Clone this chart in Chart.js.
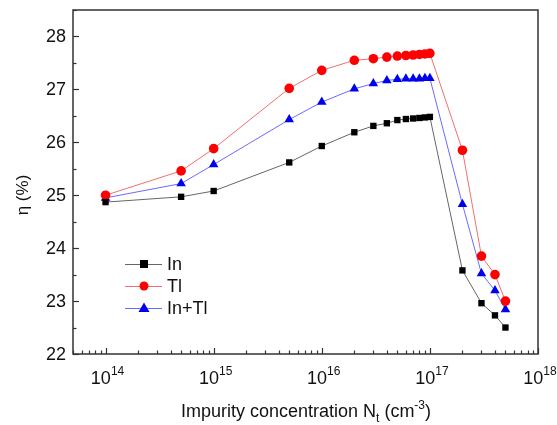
<!DOCTYPE html>
<html>
<head>
<meta charset="utf-8">
<script src="https://cdn.jsdelivr.net/npm/chart.js@4.4.1/dist/chart.umd.min.js"></script>
<style>
  body { margin: 0; background: #fff; }
  #wrap { width: 557px; height: 425px; }
</style>
</head>
<body>
<div id="wrap"><canvas id="chart" width="557" height="425"></canvas></div>
<script>
// impurity concentration (cm^-3)
const concentrations = [1e14, 5e14, 1e15, 5e15, 1e16, 2e16, 3e16, 4e16, 5e16, 6e16, 7e16, 8e16, 9e16, 1e17, 2e17, 3e17, 4e17, 5e17];
const etaIn   = [24.87, 24.97, 25.08, 25.62, 25.93, 26.19, 26.31, 26.36, 26.42, 26.44, 26.45, 26.46, 26.47, 26.48, 23.58, 22.96, 22.73, 22.50];
const etaTl   = [25.00, 25.46, 25.88, 27.02, 27.36, 27.55, 27.58, 27.61, 27.63, 27.64, 27.65, 27.66, 27.67, 27.68, 25.85, 23.85, 23.50, 23.00];
const etaInTl = [24.95, 25.22, 25.58, 26.43, 26.76, 27.01, 27.11, 27.17, 27.19, 27.20, 27.20, 27.20, 27.21, 27.21, 24.83, 23.52, 23.20, 22.84];

const xDecades = [14, 15, 16, 17, 18];
const yTicks = [22, 23, 24, 25, 26, 27, 28];

const seriesNames = ['In', 'Tl', 'In+Tl'];

function pts(ys) {
    return concentrations.map((x, i) => ({ x: x, y: ys[i] }));
}

const FONT = '"Liberation Sans", Arial, sans-serif';

// axes frame, inward ticks, labels and legend are drawn here
const frameAndText = {
    id: 'frameAndText',
    afterDraw(chart) {
        const ctx = chart.ctx;
        const a = chart.chartArea;
        const xs = chart.scales.x;
        const ys = chart.scales.y;
        ctx.save();
        ctx.strokeStyle = '#333';
        ctx.lineWidth = 1.5;
        ctx.strokeRect(a.left, a.top, a.right - a.left, a.bottom - a.top);

        // x ticks
        ctx.lineWidth = 1.2;
        for (let d = 13; d <= 18; d++) {
            for (let m = 1; m <= 9; m++) {
                const v = m * Math.pow(10, d);
                if (v < xs.min || v > xs.max) continue;
                const px = Math.round(xs.getPixelForValue(v)) + 0.5;
                const len = m === 1 ? 6 : 3.5;
                ctx.beginPath();
                ctx.moveTo(px, a.bottom);
                ctx.lineTo(px, a.bottom - len);
                ctx.stroke();
            }
        }
        // y ticks
        for (let v = 22; v <= 28.5; v += 0.5) {
            const py = Math.round(ys.getPixelForValue(v)) + 0.5;
            const len = Number.isInteger(v) ? 6 : 3.5;
            ctx.beginPath();
            ctx.moveTo(a.left, py);
            ctx.lineTo(a.left + len, py);
            ctx.stroke();
        }

        ctx.fillStyle = '#111';
        // y labels
        ctx.font = '18px ' + FONT;
        ctx.textAlign = 'right';
        ctx.textBaseline = 'middle';
        yTicks.forEach(v => {
            ctx.fillText(String(v), a.left - 7, ys.getPixelForValue(v) + 1);
        });

        // x labels: 10^n
        xDecades.forEach(n => {
            const px = xs.getPixelForValue(Math.pow(10, n));
            ctx.font = '18px ' + FONT;
            const wb = ctx.measureText('10').width;
            ctx.font = '12px ' + FONT;
            const we = ctx.measureText(String(n)).width;
            const x0 = px - (wb + we) / 2 + 2;
            ctx.textAlign = 'left';
            ctx.textBaseline = 'alphabetic';
            ctx.font = '18px ' + FONT;
            ctx.fillText('10', x0, a.bottom + 30);
            ctx.font = '12px ' + FONT;
            ctx.fillText(String(n), x0 + wb, a.bottom + 21);
        });

        // x title: Impurity concentration N_t (cm^-3)
        const parts = [
            { t: 'Impurity concentration N', s: 18, dy: 0 },
            { t: 't', s: 12, dy: 5 },
            { t: ' (cm', s: 18, dy: 0 },
            { t: '-3', s: 12, dy: -8 },
            { t: ')', s: 18, dy: 0 }
        ];
        let total = 0;
        parts.forEach(p => { ctx.font = p.s + 'px ' + FONT; p.w = ctx.measureText(p.t).width; total += p.w; });
        let cx = 306 - total / 2;
        const by = 417;
        parts.forEach(p => {
            ctx.font = p.s + 'px ' + FONT;
            ctx.fillText(p.t, cx, by + p.dy);
            cx += p.w;
        });

        // y title
        ctx.save();
        ctx.translate(28, 195);
        ctx.rotate(-Math.PI / 2);
        ctx.textAlign = 'center';
        ctx.textBaseline = 'alphabetic';
        ctx.font = '17px ' + FONT;
        ctx.fillText('η (%)', 0, 0);
        ctx.restore();

        // legend
        const ds = chart.data.datasets;
        ds.forEach((d, i) => {
            const ly = 264 + i * 22;
            ctx.strokeStyle = d.borderColor;
            ctx.lineWidth = 1;
            ctx.beginPath();
            ctx.moveTo(125, ly + 0.5);
            ctx.lineTo(162, ly + 0.5);
            ctx.stroke();
            ctx.fillStyle = d.pointBackgroundColor;
            const mx = 144;
            if (d.pointStyle === 'rect') {
                ctx.fillRect(mx - 4, ly - 4, 8, 8);
            } else if (d.pointStyle === 'circle') {
                ctx.beginPath();
                ctx.arc(mx, ly, 4.5, 0, Math.PI * 2);
                ctx.fill();
            } else {
                ctx.beginPath();
                ctx.moveTo(mx, ly - 5.5);
                ctx.lineTo(mx + 5.5, ly + 4);
                ctx.lineTo(mx - 5.5, ly + 4);
                ctx.closePath();
                ctx.fill();
            }
            ctx.fillStyle = '#111';
            ctx.font = '18px ' + FONT;
            ctx.textAlign = 'left';
            ctx.textBaseline = 'middle';
            ctx.fillText(d.label, 167, ly + 1);
        });
        ctx.restore();
    }
};

new Chart(document.getElementById('chart'), {
    type: 'line',
    data: {
        datasets: [
            {
                label: seriesNames[0], data: pts(etaIn),
                borderColor: '#666', borderWidth: 1,
                pointStyle: 'rect', pointRadius: 4.5, pointBorderWidth: 0,
                pointBackgroundColor: '#000', pointBorderColor: '#000'
            },
            {
                label: seriesNames[1], data: pts(etaTl),
                borderColor: '#f07070', borderWidth: 1,
                pointStyle: 'circle', pointRadius: 4.8, pointBorderWidth: 0,
                pointBackgroundColor: '#f00', pointBorderColor: '#f00'
            },
            {
                label: seriesNames[2], data: pts(etaInTl),
                borderColor: '#6a6aff', borderWidth: 1,
                pointStyle: 'triangle', pointRadius: 5.5, pointBorderWidth: 0,
                pointBackgroundColor: '#0000ee', pointBorderColor: '#0000ee'
            }
        ]
    },
    options: {
        responsive: false,
        animation: false,
        layout: { padding: { left: 73, right: 19, top: 10, bottom: 71 } },
        plugins: { legend: { display: false }, tooltip: { enabled: false } },
        scales: {
            x: {
                type: 'logarithmic', min: 5e13, max: 1e18,
                grid: { display: false, drawTicks: false },
                border: { display: false },
                ticks: { display: false }
            },
            y: {
                type: 'linear', min: 22, max: 28.5,
                grid: { display: false, drawTicks: false },
                border: { display: false },
                ticks: { display: false }
            }
        }
    },
    plugins: [frameAndText]
});
</script>
</body>
</html>
